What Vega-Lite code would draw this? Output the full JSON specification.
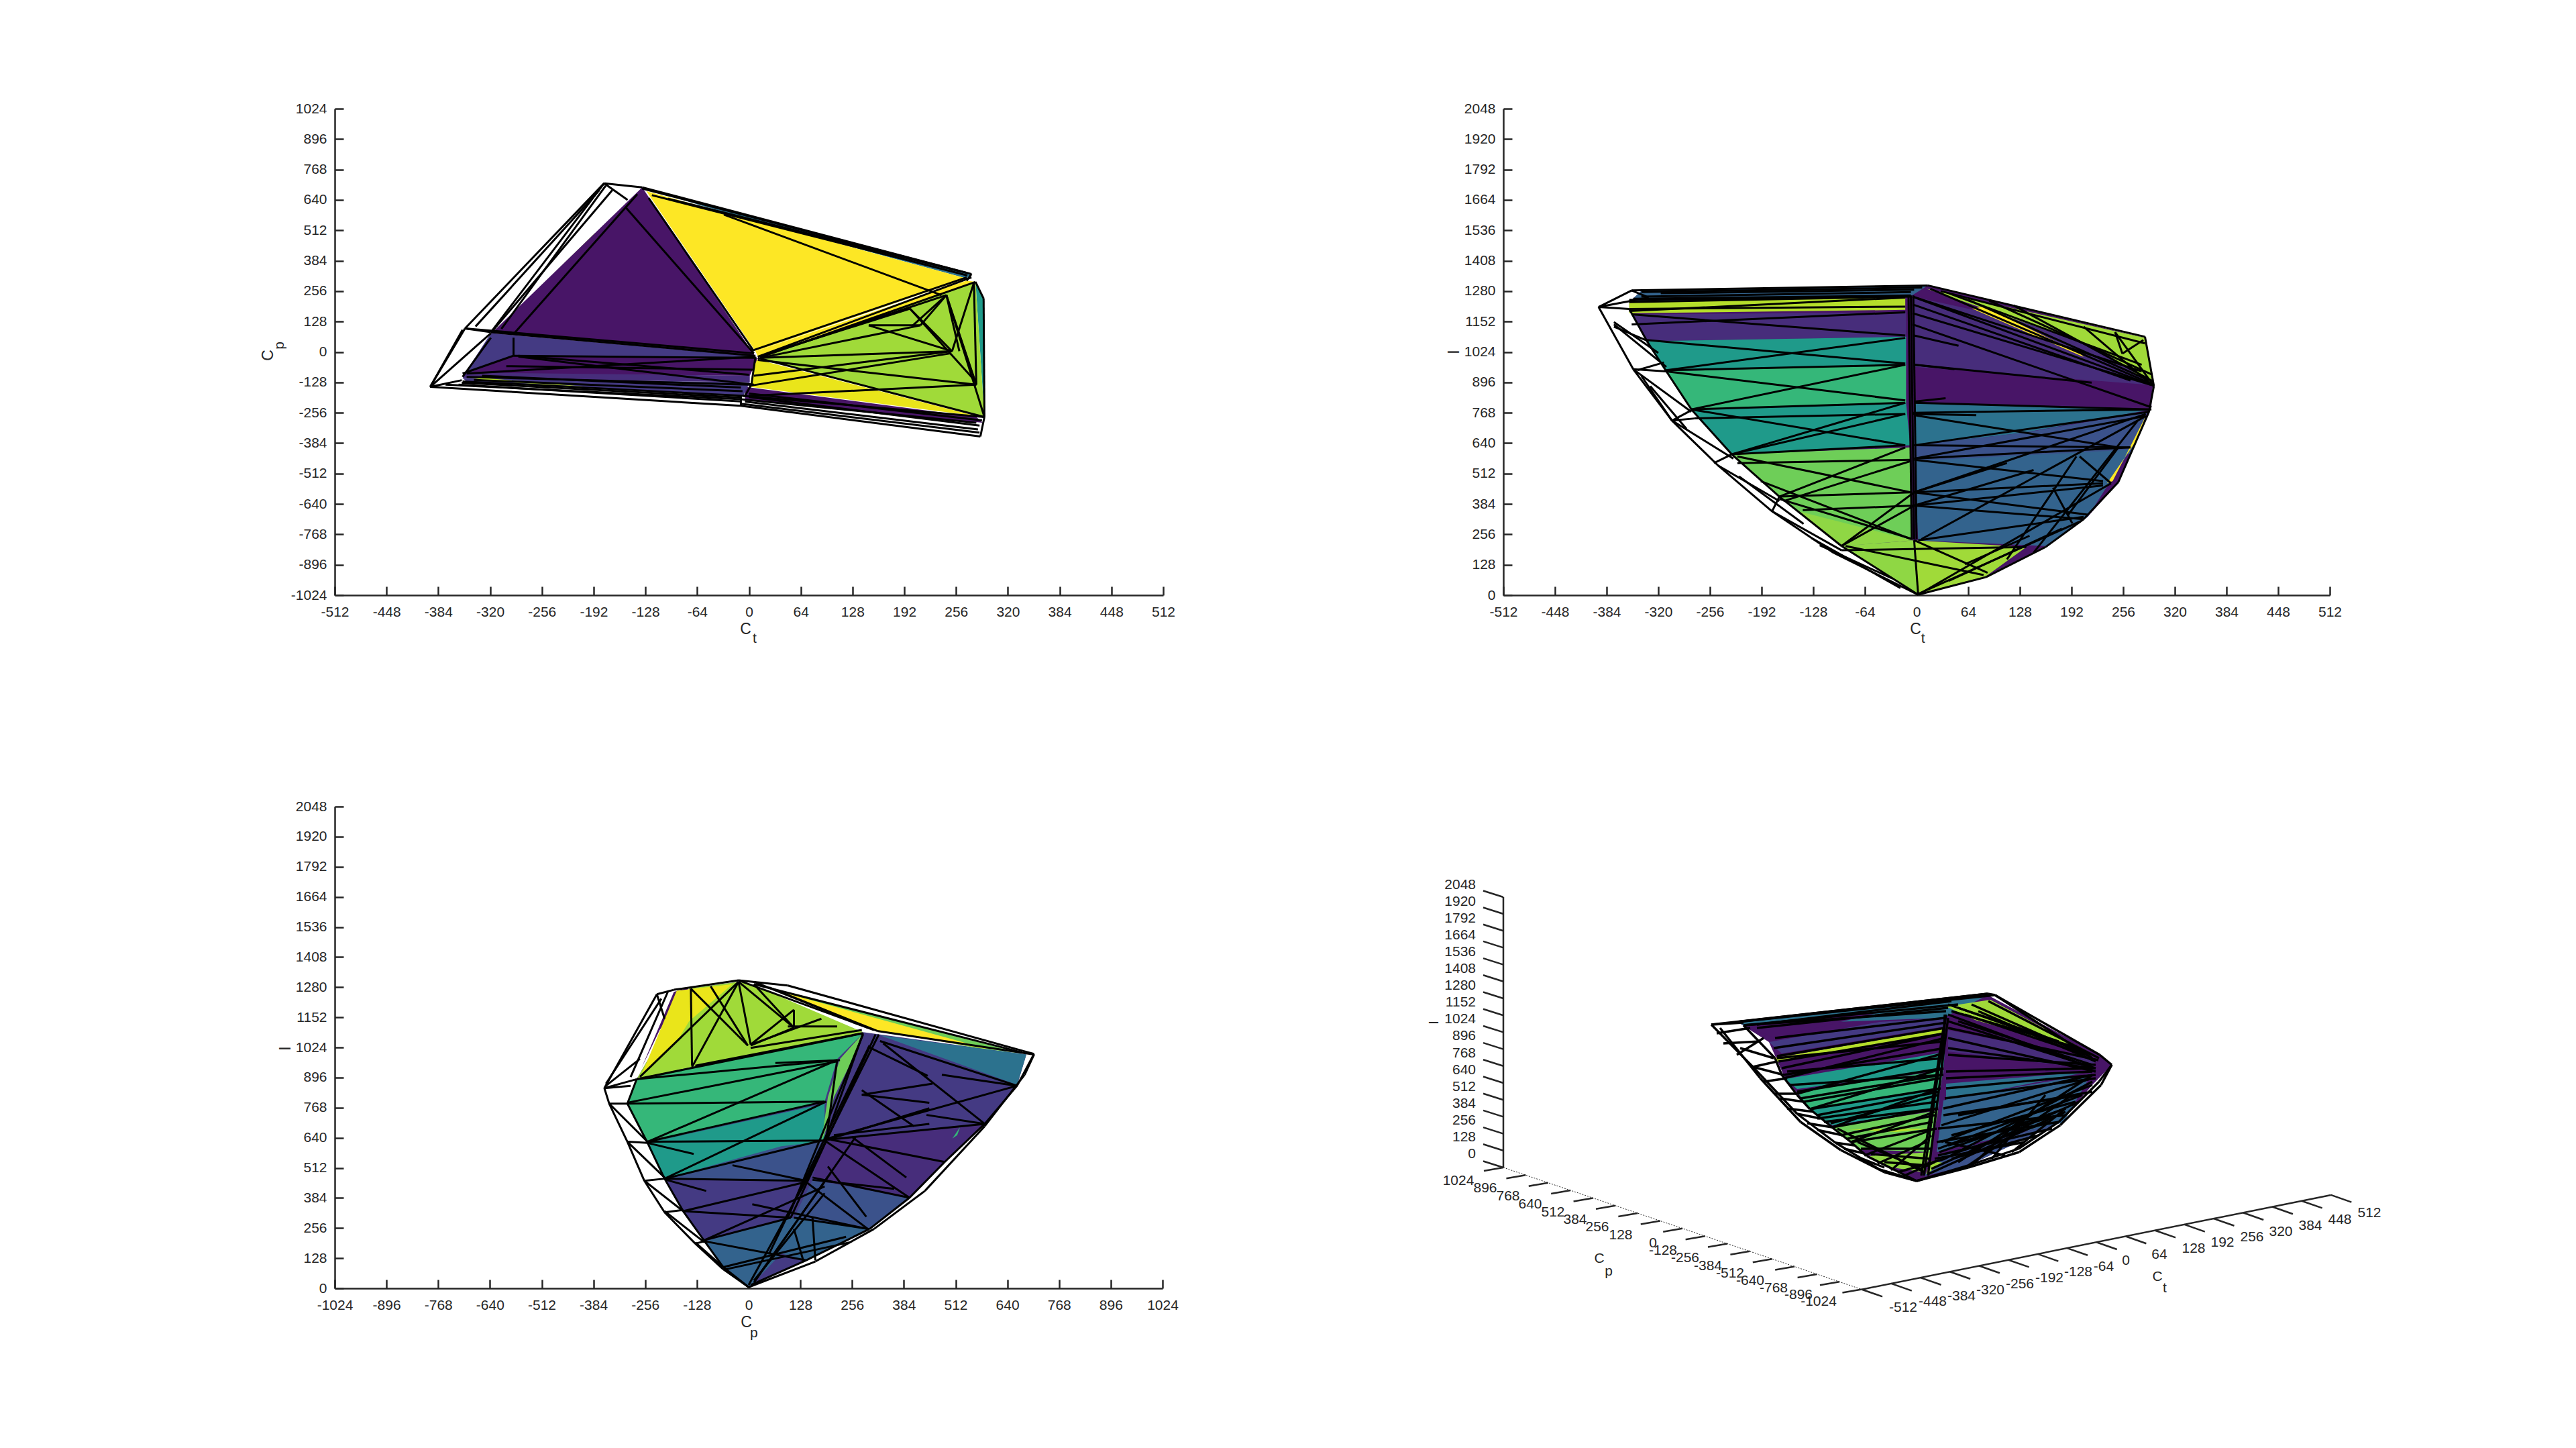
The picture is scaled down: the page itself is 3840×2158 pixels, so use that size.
{"$schema":"https://vega.github.io/schema/vega-lite/v6.json","background":"white","padding":{"left":388,"top":151,"right":200,"bottom":120},"config":{"view":{"stroke":null},"axis":{"grid":false,"domainColor":"#262626","tickColor":"#262626","domainWidth":2.5,"tickWidth":2.5,"tickSize":-13,"labelFont":"Liberation Sans","labelFontSize":21,"labelColor":"#262626","titleFont":"Liberation Sans","titleFontSize":23,"titleFontWeight":"normal","titleColor":"#262626","labelOverlap":false,"labelFlush":false,"labelBound":false},"axisX":{"labelPadding":27},"axisY":{"labelPadding":25},"text":{"font":"Liberation Sans","fontSize":21,"color":"#262626"}},
"datasets":{
"poly1":[
{"i":1,"v":1,"x":-190,"y":502,"c":"o"},{"i":1,"v":2,"x":-314,"y":88,"c":"o"},{"i":1,"v":3,"x":-304,"y":116,"c":"o"},{"i":1,"v":4,"x":-200,"y":446,"c":"o"},
{"i":2,"v":1,"x":-132,"y":693,"c":"f"},{"i":2,"v":2,"x":275,"y":328,"c":"f"},{"i":2,"v":3,"x":269,"y":309,"c":"f"},{"i":2,"v":4,"x":-58,"y":615,"c":"f"},
{"i":3,"v":1,"x":-127,"y":677,"c":"r"},{"i":3,"v":2,"x":269,"y":309,"c":"r"},{"i":3,"v":3,"x":8,"y":3,"c":"r"},
{"i":4,"v":1,"x":-132,"y":693,"c":"a"},{"i":4,"v":2,"x":8,"y":-20,"c":"a"},{"i":4,"v":3,"x":-317,"y":83,"c":"a"},
{"i":5,"v":1,"x":269,"y":300,"c":"r"},{"i":5,"v":2,"x":280,"y":295,"c":"r"},{"i":5,"v":3,"x":11,"y":-20,"c":"r"},{"i":5,"v":4,"x":8,"y":3,"c":"r"},
{"i":6,"v":1,"x":280,"y":295,"c":"g"},{"i":6,"v":2,"x":290,"y":225,"c":"g"},{"i":6,"v":3,"x":291,"y":-274,"c":"g"},
{"i":7,"v":1,"x":280,"y":295,"c":"o"},{"i":7,"v":2,"x":291,"y":-274,"c":"o"},{"i":7,"v":3,"x":154,"y":-157,"c":"o"},{"i":7,"v":4,"x":11,"y":-25,"c":"o"},
{"i":8,"v":1,"x":8,"y":-30,"c":"q"},{"i":8,"v":2,"x":281,"y":-270,"c":"q"},{"i":8,"v":3,"x":1,"y":-147,"c":"q"},
{"i":9,"v":1,"x":-5,"y":-147,"c":"a"},{"i":9,"v":2,"x":281,"y":-274,"c":"a"},{"i":9,"v":3,"x":289,"y":-298,"c":"a"},{"i":9,"v":4,"x":-5,"y":-204,"c":"a"},
{"i":10,"v":1,"x":-319,"y":79,"c":"c"},{"i":10,"v":2,"x":0,"y":-16,"c":"c"},{"i":10,"v":3,"x":8,"y":-25,"c":"c"},{"i":10,"v":4,"x":-290,"y":-16,"c":"c"},{"i":10,"v":5,"x":-354,"y":-105,"c":"c"},
{"i":11,"v":1,"x":-290,"y":-16,"c":"a"},{"i":11,"v":2,"x":11,"y":-25,"c":"a"},{"i":11,"v":3,"x":1,"y":-100,"c":"a"},{"i":11,"v":4,"x":-349,"y":-91,"c":"a"},
{"i":12,"v":1,"x":-354,"y":-110,"c":"c"},{"i":12,"v":2,"x":1,"y":-128,"c":"c"},{"i":12,"v":3,"x":-7,"y":-185,"c":"c"},{"i":12,"v":4,"x":-349,"y":-124,"c":"c"},
{"i":13,"v":1,"x":-349,"y":-87,"c":"b"},{"i":13,"v":2,"x":1,"y":-100,"c":"b"},{"i":13,"v":3,"x":1,"y":-128,"c":"b"},{"i":13,"v":4,"x":-354,"y":-110,"c":"b"},
{"i":14,"v":1,"x":-349,"y":-105,"c":"p"},{"i":14,"v":2,"x":-333,"y":-108,"c":"p"},{"i":14,"v":3,"x":-200,"y":-147,"c":"p"},{"i":14,"v":4,"x":-317,"y":-124,"c":"p"},
{"i":15,"v":1,"x":-319,"y":83,"c":"a"},{"i":15,"v":2,"x":1,"y":-6,"c":"a"},{"i":15,"v":3,"x":1,"y":-16,"c":"a"},{"i":15,"v":4,"x":-319,"y":79,"c":"a"}
],
"line1":[
{"x":-394,"y":-147,"x2":-351,"y2":99},{"x":-351,"y":99,"x2":-179,"y2":710},{"x":-179,"y":710,"x2":-132,"y2":693},{"x":-132,"y":693,"x2":275,"y2":328},{"x":-132,"y":688,"x2":269,"y2":333},{"x":275,"y":328,"x2":269,"y2":300},{"x":280,"y":295,"x2":290,"y2":225},{"x":290,"y":225,"x2":291,"y2":-274},{"x":291,"y":-274,"x2":286,"y2":-356},{"x":286,"y":-356,"x2":-10,"y2":-227},{"x":-10,"y":-227,"x2":-394,"y2":-147},{"x":-394,"y":-147,"x2":-355,"y2":-119},
{"x":-179,"y":710,"x2":-319,"y2":83},{"x":-169,"y":681,"x2":-317,"y2":88},{"x":-177,"y":700,"x2":-306,"y2":97},{"x":-185,"y":681,"x2":-338,"y2":107},{"x":-179,"y":710,"x2":-150,"y2":640},{"x":-138,"y":664,"x2":-290,"y2":79},{"x":-153,"y":611,"x2":6,"y2":-6},{"x":-124,"y":648,"x2":6,"y2":3},{"x":-351,"y":99,"x2":6,"y2":-6},{"x":-319,"y":83,"x2":8,"y2":-16},{"x":-351,"y":99,"x2":-319,"y2":83},{"x":-354,"y":93,"x2":-394,"y2":-147},{"x":-319,"y":79,"x2":-394,"y2":-147},{"x":-319,"y":60,"x2":-354,"y2":-105},{"x":-291,"y":60,"x2":-291,"y2":-16},{"x":-291,"y":-16,"x2":-354,"y2":-91},{"x":-291,"y":-16,"x2":8,"y2":-25},{"x":-285,"y":-16,"x2":0,"y2":-96},{"x":-285,"y":-20,"x2":6,"y2":-138},{"x":-349,"y":-91,"x2":8,"y2":-20},{"x":-349,"y":-105,"x2":0,"y2":-138},{"x":-354,"y":-124,"x2":-5,"y2":-185},{"x":-375,"y":-138,"x2":-10,"y2":-199},{"x":-359,"y":-138,"x2":-10,"y2":-208},{"x":-10,"y":-199,"x2":281,"y2":-298},{"x":-5,"y":-209,"x2":283,"y2":-326},{"x":-7,"y":-185,"x2":291,"y2":-274},{"x":8,"y":-20,"x2":3,"y2":-138},{"x":3,"y":-138,"x2":-5,"y2":-185},{"x":-10,"y":-185,"x2":-10,"y2":-227},
{"x":11,"y":-20,"x2":275,"y2":314},{"x":6,"y":8,"x2":269,"y2":314},{"x":16,"y":-20,"x2":280,"y2":295},{"x":-31,"y":578,"x2":238,"y2":239},{"x":244,"y":239,"x2":291,"y2":-274},{"x":244,"y":239,"x2":281,"y2":-138},{"x":244,"y":239,"x2":260,"y2":3},{"x":278,"y":291,"x2":251,"y2":3},{"x":278,"y":291,"x2":281,"y2":-138},{"x":199,"y":182,"x2":281,"y2":-128},{"x":199,"y":182,"x2":251,"y2":3},{"x":244,"y":239,"x2":201,"y2":107},{"x":148,"y":112,"x2":212,"y2":112},{"x":148,"y":112,"x2":251,"y2":3},{"x":212,"y":112,"x2":244,"y2":239},{"x":199,"y":182,"x2":11,"y2":-20},{"x":212,"y":112,"x2":14,"y2":-25},{"x":251,"y":3,"x2":14,"y2":-25},{"x":251,"y":3,"x2":6,"y2":-100},{"x":249,"y":-6,"x2":0,"y2":-143},{"x":281,"y":-138,"x2":0,"y2":-185},{"x":281,"y":-138,"x2":11,"y2":-34},{"x":11,"y":-25,"x2":291,"y2":-274},{"x":244,"y":239,"x2":14,"y2":-20},
{"x":-330,"y":-100,"x2":-10,"y2":-150},{"x":-340,"y":-118,"x2":-8,"y2":-165},{"x":-300,"y":-60,"x2":5,"y2":-75},{"x":-355,"y":-130,"x2":-10,"y2":-192},{"x":0,"y":-190,"x2":285,"y2":-310},{"x":0,"y":-175,"x2":288,"y2":-288},{"x":-10,"y":-218,"x2":285,"y2":-340},{"x":-120,"y":660,"x2":270,"y2":322},{"x":-100,"y":645,"x2":260,"y2":340}
],
"poly2":[
{"i":0,"v":1,"x":-356,"y":1234,"c":"a"},{"i":0,"v":2,"x":-341,"y":1281,"c":"a"},{"i":0,"v":3,"x":14,"y":1304,"c":"a"},{"i":0,"v":4,"x":283,"y":1083,"c":"a"},{"i":0,"v":5,"x":293,"y":885,"c":"a"},{"i":0,"v":6,"x":288,"y":772,"c":"a"},{"i":0,"v":7,"x":250,"y":476,"c":"a"},{"i":0,"v":8,"x":212,"y":330,"c":"a"},{"i":0,"v":9,"x":160,"y":207,"c":"a"},{"i":0,"v":10,"x":86,"y":80,"c":"a"},{"i":0,"v":11,"x":2,"y":2,"c":"a"},{"i":0,"v":12,"x":-93,"y":207,"c":"a"},{"i":0,"v":13,"x":-170,"y":415,"c":"a"},{"i":0,"v":14,"x":-229,"y":593,"c":"a"},{"i":0,"v":15,"x":-279,"y":782,"c":"a"},{"i":0,"v":16,"x":-310,"y":942,"c":"a"},{"i":0,"v":17,"x":-334,"y":1069,"c":"a"},{"i":0,"v":18,"x":-356,"y":1205,"c":"a"},
{"i":1,"v":1,"x":-341,"y":1281,"c":"e"},{"i":1,"v":2,"x":14,"y":1304,"c":"e"},{"i":1,"v":3,"x":-8,"y":1257,"c":"e"},{"i":1,"v":4,"x":-356,"y":1234,"c":"e"},
{"i":2,"v":1,"x":-356,"y":1234,"c":"p"},{"i":2,"v":2,"x":-14,"y":1257,"c":"p"},{"i":2,"v":3,"x":-14,"y":1201,"c":"p"},{"i":2,"v":4,"x":-356,"y":1187,"c":"p"},
{"i":3,"v":1,"x":-353,"y":1182,"c":"b"},{"i":3,"v":2,"x":-13,"y":1191,"c":"b"},{"i":3,"v":3,"x":-13,"y":1088,"c":"b"},{"i":3,"v":4,"x":-334,"y":1069,"c":"b"},
{"i":4,"v":1,"x":-334,"y":1069,"c":"g"},{"i":4,"v":2,"x":-13,"y":1088,"c":"g"},{"i":4,"v":3,"x":-13,"y":970,"c":"g"},{"i":4,"v":4,"x":-310,"y":942,"c":"g"},
{"i":5,"v":1,"x":-310,"y":942,"c":"k"},{"i":5,"v":2,"x":-13,"y":970,"c":"k"},{"i":5,"v":3,"x":-13,"y":810,"c":"k"},{"i":5,"v":4,"x":-279,"y":782,"c":"k"},
{"i":6,"v":1,"x":-279,"y":782,"c":"g"},{"i":6,"v":2,"x":-13,"y":810,"c":"g"},{"i":6,"v":3,"x":-8,"y":631,"c":"g"},{"i":6,"v":4,"x":-229,"y":593,"c":"g"},
{"i":7,"v":1,"x":-229,"y":593,"c":"m"},{"i":7,"v":2,"x":-7,"y":622,"c":"m"},{"i":7,"v":3,"x":-5,"y":231,"c":"m"},{"i":7,"v":4,"x":-89,"y":207,"c":"m"},{"i":7,"v":5,"x":-170,"y":415,"c":"m"},
{"i":8,"v":1,"x":-146,"y":353,"c":"n"},{"i":8,"v":2,"x":-5,"y":231,"c":"n"},{"i":8,"v":3,"x":-93,"y":207,"c":"n"},
{"i":9,"v":1,"x":-93,"y":207,"c":"n"},{"i":9,"v":2,"x":-3,"y":231,"c":"n"},{"i":9,"v":3,"x":2,"y":2,"c":"n"},
{"i":10,"v":1,"x":-3,"y":231,"c":"o"},{"i":10,"v":2,"x":136,"y":203,"c":"o"},{"i":10,"v":3,"x":86,"y":80,"c":"o"},{"i":10,"v":4,"x":2,"y":5,"c":"o"},
{"i":11,"v":1,"x":-5,"y":1257,"c":"b"},{"i":11,"v":2,"x":217,"y":1093,"c":"b"},{"i":11,"v":3,"x":291,"y":885,"c":"b"},{"i":11,"v":4,"x":291,"y":791,"c":"b"},{"i":11,"v":5,"x":-3,"y":810,"c":"b"},
{"i":12,"v":1,"x":-3,"y":961,"c":"a"},{"i":12,"v":2,"x":291,"y":885,"c":"a"},{"i":12,"v":3,"x":291,"y":791,"c":"a"},{"i":12,"v":4,"x":-3,"y":810,"c":"a"},
{"i":13,"v":1,"x":12,"y":1290,"c":"o"},{"i":13,"v":2,"x":283,"y":1083,"c":"o"},{"i":13,"v":3,"x":293,"y":885,"c":"o"},{"i":13,"v":4,"x":222,"y":1045,"c":"o"},
{"i":14,"v":1,"x":83,"y":1215,"c":"r"},{"i":14,"v":2,"x":203,"y":1017,"c":"r"},{"i":14,"v":3,"x":207,"y":1003,"c":"r"},{"i":14,"v":4,"x":69,"y":1206,"c":"r"},
{"i":15,"v":1,"x":-3,"y":810,"c":"f"},{"i":15,"v":2,"x":291,"y":782,"c":"f"},{"i":15,"v":3,"x":131,"y":683,"c":"f"},{"i":15,"v":4,"x":-3,"y":631,"c":"f"},
{"i":16,"v":1,"x":-3,"y":631,"c":"d"},{"i":16,"v":2,"x":131,"y":683,"c":"d"},{"i":16,"v":3,"x":286,"y":772,"c":"d"},{"i":16,"v":4,"x":265,"y":593,"c":"d"},{"i":16,"v":5,"x":-3,"y":565,"c":"d"},
{"i":17,"v":1,"x":-3,"y":565,"c":"e"},{"i":17,"v":2,"x":265,"y":612,"c":"e"},{"i":17,"v":3,"x":212,"y":330,"c":"e"},{"i":17,"v":4,"x":160,"y":207,"c":"e"},{"i":17,"v":5,"x":2,"y":231,"c":"e"},
{"i":18,"v":1,"x":274,"y":659,"c":"r"},{"i":18,"v":2,"x":284,"y":754,"c":"r"},{"i":18,"v":3,"x":243,"y":480,"c":"r"},{"i":18,"v":4,"x":236,"y":471,"c":"r"}
],
"line2":[
{"x":-394,"y":1213,"x2":-351,"y2":951},{"x":-351,"y":951,"x2":-303,"y2":735},{"x":-303,"y":735,"x2":-246,"y2":546},{"x":-246,"y":546,"x2":-179,"y2":353},{"x":-179,"y":353,"x2":-103,"y2":179},{"x":-103,"y":179,"x2":2,"y2":2},{"x":2,"y":2,"x2":86,"y2":76},{"x":86,"y":76,"x2":160,"y2":203},{"x":160,"y":203,"x2":207,"y2":320},{"x":207,"y":320,"x2":250,"y2":476},{"x":250,"y":476,"x2":288,"y2":772},{"x":288,"y":772,"x2":294,"y2":881},{"x":294,"y":881,"x2":283,"y2":1088},{"x":283,"y":1088,"x2":14,"y2":1304},{"x":14,"y":1304,"x2":-353,"y2":1283},{"x":-353,"y":1283,"x2":-394,"y2":1213},
{"x":-356,"y":1205,"x2":-334,"y2":1069},{"x":-334,"y":1069,"x2":-310,"y2":942},{"x":-310,"y":942,"x2":-279,"y2":782},{"x":-279,"y":782,"x2":-229,"y2":593},{"x":-229,"y":593,"x2":-170,"y2":415},{"x":-170,"y":415,"x2":-93,"y2":207},{"x":-93,"y":207,"x2":2,"y2":2},
{"x":-394,"y":1213,"x2":-356,"y2":1205},{"x":-375,"y":1130,"x2":-332,"y2":1069},{"x":-351,"y":951,"x2":-310,"y2":942},{"x":-346,"y":947,"x2":-313,"y2":980},{"x":-303,"y":735,"x2":-277,"y2":782},{"x":-303,"y":735,"x2":-275,"y2":744},{"x":-251,"y":556,"x2":-229,"y2":593},{"x":-179,"y":353,"x2":-170,"y2":415},{"x":-375,"y":1140,"x2":-310,"y2":961},{"x":-351,"y":951,"x2":-279,"y2":772},{"x":-341,"y":923,"x2":-303,"y2":735},{"x":-303,"y":735,"x2":-227,"y2":575},{"x":-246,"y":546,"x2":-170,"y2":396},{"x":-179,"y":353,"x2":-93,"y2":189},{"x":-353,"y":1283,"x2":-332,"y2":1253},{"x":-394,"y":1213,"x2":-332,"y2":1253},
{"x":-353,"y":1182,"x2":-14,"y2":1093},{"x":-353,"y":1140,"x2":-14,"y2":1191},{"x":-334,"y":1074,"x2":-14,"y2":975},{"x":-310,"y":947,"x2":-14,"y2":1083},{"x":-310,"y":947,"x2":-14,"y2":970},{"x":-310,"y":942,"x2":-14,"y2":820},{"x":-279,"y":782,"x2":-14,"y2":970},{"x":-279,"y":782,"x2":-14,"y2":810},{"x":-275,"y":744,"x2":-14,"y2":763},{"x":-279,"y":782,"x2":-14,"y2":631},{"x":-229,"y":593,"x2":-14,"y2":810},{"x":-229,"y":593,"x2":-14,"y2":763},{"x":-229,"y":593,"x2":-14,"y2":631},{"x":-222,"y":556,"x2":-7,"y2":570},{"x":-222,"y":584,"x2":-7,"y2":433},{"x":-170,"y":415,"x2":-14,"y2":622},{"x":-165,"y":396,"x2":-7,"y2":565},{"x":-170,"y":415,"x2":-7,"y2":433},{"x":-170,"y":405,"x2":-5,"y2":236},{"x":-141,"y":358,"x2":-5,"y2":377},{"x":-193,"y":480,"x2":-7,"y2":236},{"x":-93,"y":207,"x2":-3,"y2":433},{"x":-93,"y":207,"x2":-3,"y2":377},{"x":-93,"y":189,"x2":136,"y2":203},{"x":2,"y":2,"x2":-3,"y2":231},{"x":-88,"y":207,"x2":83,"y2":85},{"x":-3,"y":231,"x2":88,"y2":94},
{"x":-356,"y":1243,"x2":-14,"y2":1257},{"x":-356,"y":1196,"x2":-14,"y2":1253},{"x":-356,"y":1205,"x2":-14,"y2":1215},{"x":-341,"y":1276,"x2":7,"y2":1295},{"x":-317,"y":1271,"x2":-3,"y2":1286},{"x":-341,"y":1257,"x2":-7,"y2":1276},{"x":-351,"y":1248,"x2":-7,"y2":1262},{"x":-356,"y":1234,"x2":-7,"y2":1257},{"x":-10,"y":1262,"x2":-6,"y2":235},{"x":-7,"y":1262,"x2":-3,"y2":235},{"x":-4,"y":1262,"x2":0,"y2":235},
{"x":-5,"y":1257,"x2":291,"y2":885},{"x":-5,"y":1187,"x2":291,"y2":885},{"x":-5,"y":1140,"x2":291,"y2":791},{"x":-5,"y":1257,"x2":279,"y2":942},{"x":-5,"y":1224,"x2":265,"y2":904},{"x":-3,"y":970,"x2":217,"y2":895},{"x":-3,"y":810,"x2":291,"y2":782},{"x":-3,"y":1093,"x2":52,"y2":1050},{"x":-3,"y":970,"x2":47,"y2":951},{"x":-5,"y":763,"x2":74,"y2":758},{"x":-3,"y":815,"x2":36,"y2":829},{"x":-5,"y":768,"x2":288,"y2":782},{"x":-3,"y":758,"x2":250,"y2":622},{"x":-3,"y":631,"x2":288,"y2":772},{"x":-3,"y":575,"x2":284,"y2":754},{"x":-3,"y":631,"x2":265,"y2":622},{"x":-3,"y":575,"x2":265,"y2":622},{"x":-3,"y":570,"x2":231,"y2":480},{"x":-3,"y":433,"x2":284,"y2":763},{"x":-3,"y":433,"x2":231,"y2":471},{"x":-3,"y":433,"x2":112,"y2":556},{"x":-3,"y":377,"x2":145,"y2":527},{"x":-3,"y":377,"x2":231,"y2":462},{"x":-3,"y":377,"x2":207,"y2":320},{"x":-3,"y":433,"x2":212,"y2":339},{"x":6,"y":236,"x2":284,"y2":754},{"x":2,"y":231,"x2":207,"y2":330},{"x":2,"y":2,"x2":241,"y2":471},{"x":2,"y":5,"x2":203,"y2":311},{"x":274,"y":735,"x2":145,"y2":179},{"x":198,"y":584,"x2":112,"y2":151},{"x":250,"y":622,"x2":188,"y2":339},{"x":202,"y":584,"x2":241,"y2":471},{"x":169,"y":452,"x2":193,"y2":302},
{"x":246,"y":1107,"x2":293,"y2":885},{"x":246,"y":1107,"x2":255,"y2":1017},{"x":281,"y":1074,"x2":255,"y2":1017},{"x":207,"y":1130,"x2":293,"y2":881},{"x":64,"y":1243,"x2":288,"y2":904},{"x":17,"y":1290,"x2":291,"y2":890},{"x":40,"y":1271,"x2":279,"y2":970},
{"x":30,"y":1280,"x2":283,"y2":1060},{"x":90,"y":1240,"x2":291,"y2":930},{"x":120,"y":1220,"x2":293,"y2":900},{"x":-375,"y":1150,"x2":-320,"y2":1020},{"x":-330,"y":880,"x2":-285,"y2":700},{"x":-220,"y":500,"x2":-140,"y2":300},{"x":-130,"y":240,"x2":-20,"y2":30},{"x":-120,"y":210,"x2":-30,"y2":70},{"x":60,"y":130,"x2":140,"y2":250},{"x":40,"y":60,"x2":180,"y2":280}
],
"poly3":[
{"i":0,"v":1,"x":-277,"y":889,"c":"c"},{"i":0,"v":2,"x":-147,"y":1274,"c":"c"},{"i":0,"v":3,"x":-25,"y":1303,"c":"c"},{"i":0,"v":4,"x":283,"y":1089,"c":"c"},{"i":0,"v":5,"x":687,"y":994,"c":"c"},{"i":0,"v":6,"x":664,"y":861,"c":"c"},{"i":0,"v":7,"x":584,"y":699,"c":"c"},{"i":0,"v":8,"x":485,"y":537,"c":"c"},{"i":0,"v":9,"x":398,"y":385,"c":"c"},{"i":0,"v":10,"x":299,"y":252,"c":"c"},{"i":0,"v":11,"x":142,"y":119,"c":"c"},{"i":0,"v":12,"x":0,"y":5,"c":"c"},{"i":0,"v":13,"x":-63,"y":90,"c":"c"},{"i":0,"v":14,"x":-109,"y":200,"c":"c"},{"i":0,"v":15,"x":-162,"y":328,"c":"c"},{"i":0,"v":16,"x":-208,"y":466,"c":"c"},{"i":0,"v":17,"x":-250,"y":618,"c":"c"},{"i":0,"v":18,"x":-300,"y":785,"c":"c"},
{"i":1,"v":1,"x":-265,"y":937,"c":"a"},{"i":1,"v":2,"x":-185,"y":1260,"c":"a"},{"i":1,"v":3,"x":-147,"y":1279,"c":"a"},{"i":1,"v":4,"x":-220,"y":1098,"c":"a"},
{"i":2,"v":1,"x":-277,"y":889,"c":"o"},{"i":2,"v":2,"x":-147,"y":1274,"c":"o"},{"i":2,"v":3,"x":-25,"y":1303,"c":"o"},{"i":2,"v":4,"x":13,"y":1288,"c":"o"},{"i":2,"v":5,"x":283,"y":1089,"c":"o"},{"i":2,"v":6,"x":-140,"y":941,"c":"o"},
{"i":3,"v":1,"x":-265,"y":908,"c":"q"},{"i":3,"v":2,"x":-178,"y":1265,"c":"q"},{"i":3,"v":3,"x":-40,"y":1293,"c":"q"},{"i":3,"v":4,"x":-147,"y":1136,"c":"q"},{"i":3,"v":5,"x":-170,"y":1070,"c":"q"},
{"i":4,"v":1,"x":36,"y":1284,"c":"m"},{"i":4,"v":2,"x":676,"y":998,"c":"m"},{"i":4,"v":3,"x":562,"y":1022,"c":"m"},{"i":4,"v":4,"x":295,"y":1108,"c":"m"},
{"i":5,"v":1,"x":51,"y":1274,"c":"r"},{"i":5,"v":2,"x":592,"y":1017,"c":"r"},{"i":5,"v":3,"x":318,"y":1094,"c":"r"},
{"i":6,"v":1,"x":-277,"y":889,"c":"k"},{"i":6,"v":2,"x":283,"y":1084,"c":"k"},{"i":6,"v":3,"x":219,"y":975,"c":"k"},{"i":6,"v":4,"x":188,"y":794,"c":"k"},{"i":6,"v":5,"x":-300,"y":785,"c":"k"},
{"i":7,"v":1,"x":-300,"y":785,"c":"k"},{"i":7,"v":2,"x":192,"y":794,"c":"k"},{"i":7,"v":3,"x":-250,"y":618,"c":"k"},
{"i":8,"v":1,"x":-250,"y":618,"c":"g"},{"i":8,"v":2,"x":188,"y":785,"c":"g"},{"i":8,"v":3,"x":188,"y":628,"c":"g"},
{"i":9,"v":1,"x":-250,"y":618,"c":"g"},{"i":9,"v":2,"x":188,"y":628,"c":"g"},{"i":9,"v":3,"x":-208,"y":466,"c":"g"},
{"i":10,"v":1,"x":-208,"y":466,"c":"d"},{"i":10,"v":2,"x":81,"y":604,"c":"d"},{"i":10,"v":3,"x":180,"y":623,"c":"d"},{"i":10,"v":4,"x":142,"y":457,"c":"d"},
{"i":11,"v":1,"x":-208,"y":466,"c":"c"},{"i":11,"v":2,"x":142,"y":457,"c":"c"},{"i":11,"v":3,"x":-162,"y":328,"c":"c"},
{"i":12,"v":1,"x":-162,"y":328,"c":"c"},{"i":12,"v":2,"x":142,"y":457,"c":"c"},{"i":12,"v":3,"x":104,"y":300,"c":"c"},{"i":12,"v":4,"x":-109,"y":200,"c":"c"},
{"i":13,"v":1,"x":-109,"y":200,"c":"e"},{"i":13,"v":2,"x":104,"y":300,"c":"e"},{"i":13,"v":3,"x":299,"y":252,"c":"e"},{"i":13,"v":4,"x":142,"y":119,"c":"e"},{"i":13,"v":5,"x":0,"y":5,"c":"e"},{"i":13,"v":6,"x":-63,"y":90,"c":"e"},
{"i":14,"v":1,"x":283,"y":1084,"c":"m"},{"i":14,"v":2,"x":180,"y":623,"c":"m"},{"i":14,"v":3,"x":196,"y":813,"c":"m"},{"i":14,"v":4,"x":226,"y":975,"c":"m"},
{"i":15,"v":1,"x":287,"y":1079,"c":"c"},{"i":15,"v":2,"x":664,"y":861,"c":"c"},{"i":15,"v":3,"x":584,"y":699,"c":"c"},{"i":15,"v":4,"x":188,"y":632,"c":"c"},{"i":15,"v":5,"x":211,"y":813,"c":"c"},
{"i":16,"v":1,"x":325,"y":1075,"c":"f"},{"i":16,"v":2,"x":687,"y":994,"c":"f"},{"i":16,"v":3,"x":664,"y":865,"c":"f"},
{"i":17,"v":1,"x":188,"y":628,"c":"b"},{"i":17,"v":2,"x":584,"y":699,"c":"b"},{"i":17,"v":3,"x":485,"y":537,"c":"b"},{"i":17,"v":4,"x":398,"y":385,"c":"b"},{"i":17,"v":5,"x":158,"y":471,"c":"b"},
{"i":18,"v":1,"x":158,"y":461,"c":"d"},{"i":18,"v":2,"x":398,"y":385,"c":"d"},{"i":18,"v":3,"x":299,"y":252,"c":"d"},{"i":18,"v":4,"x":112,"y":300,"c":"d"},
{"i":19,"v":1,"x":13,"y":24,"c":"c"},{"i":19,"v":2,"x":142,"y":119,"c":"c"},{"i":19,"v":3,"x":81,"y":148,"c":"c"},
{"i":20,"v":1,"x":523,"y":685,"c":"k"},{"i":20,"v":2,"x":504,"y":637,"c":"k"},{"i":20,"v":3,"x":516,"y":651,"c":"k"}
],
"line3":[
{"x":0,"y":5,"x2":-63,"y2":81},{"x":-63,"y":81,"x2":-132,"y2":190},{"x":-132,"y":190,"x2":-208,"y2":323},{"x":-208,"y":323,"x2":-258,"y2":457},{"x":-258,"y":457,"x2":-300,"y2":623},{"x":-300,"y":623,"x2":-345,"y2":785},{"x":-345,"y":785,"x2":-357,"y2":851},{"x":-357,"y":851,"x2":-227,"y2":1250},{"x":-227,"y":1250,"x2":-185,"y2":1269},{"x":-185,"y":1269,"x2":-25,"y2":1309},{"x":-25,"y":1309,"x2":97,"y2":1287},{"x":97,"y":1287,"x2":706,"y2":996},{"x":706,"y":994,"x2":683,"y2":908},{"x":683,"y":908,"x2":584,"y2":689},{"x":584,"y":689,"x2":436,"y2":414},{"x":436,"y":414,"x2":310,"y2":252},{"x":310,"y":252,"x2":165,"y2":114},{"x":165,"y":114,"x2":0,"y2":5},{"x":706,"y":996,"x2":664,"y2":861},{"x":664,"y":861,"x2":584,"y2":699},{"x":584,"y":699,"x2":485,"y2":537},{"x":485,"y":537,"x2":398,"y2":385},{"x":398,"y":385,"x2":299,"y2":252},{"x":299,"y":252,"x2":142,"y2":119},{"x":142,"y":119,"x2":5,"y2":14},
{"x":-277,"y":889,"x2":-300,"y2":785},{"x":-300,"y":785,"x2":-250,"y2":618},{"x":-250,"y":618,"x2":-208,"y2":466},{"x":-208,"y":466,"x2":-162,"y2":328},{"x":-162,"y":328,"x2":-109,"y2":200},{"x":-109,"y":200,"x2":-63,"y2":90},{"x":-63,"y":90,"x2":0,"y2":5},{"x":-357,"y":851,"x2":-277,"y2":889},{"x":-357,"y":851,"x2":-292,"y2":861},{"x":-345,"y":785,"x2":-300,"y2":785},{"x":-353,"y":870,"x2":-216,"y2":1231},{"x":-353,"y":861,"x2":-269,"y2":975},{"x":-300,"y":623,"x2":-250,"y2":618},{"x":-345,"y":785,"x2":-250,"y2":623},{"x":-300,"y":623,"x2":-208,"y2":471},{"x":-258,"y":457,"x2":-208,"y2":466},{"x":-258,"y":457,"x2":-162,"y2":328},{"x":-208,"y":323,"x2":-162,"y2":333},{"x":-208,"y":328,"x2":-109,"y2":195},{"x":-132,"y":190,"x2":-109,"y2":200},{"x":-132,"y":195,"x2":-63,"y2":90},{"x":-227,"y":1250,"x2":-208,"y2":1146},{"x":-200,"y":1260,"x2":-292,"y2":898},
{"x":-277,"y":889,"x2":283,"y2":1084},{"x":-277,"y":889,"x2":219,"y2":970},{"x":-300,"y":789,"x2":219,"y2":965},{"x":-300,"y":785,"x2":188,"y2":794},{"x":-250,"y":623,"x2":219,"y2":970},{"x":-250,"y":623,"x2":188,"y2":794},{"x":-250,"y":623,"x2":188,"y2":628},{"x":-208,"y":466,"x2":192,"y2":794},{"x":-208,"y":466,"x2":180,"y2":628},{"x":-208,"y":466,"x2":142,"y2":457},{"x":-250,"y":618,"x2":-136,"y2":571},{"x":-204,"y":461,"x2":-105,"y2":414},{"x":-162,"y":328,"x2":142,"y2":452},{"x":-162,"y":328,"x2":104,"y2":300},{"x":-109,"y":205,"x2":104,"y2":300},{"x":-109,"y":205,"x2":188,"y2":433},{"x":-109,"y":200,"x2":142,"y2":119},{"x":9,"y":357,"x2":295,"y2":252},{"x":-63,"y":90,"x2":241,"y2":219},{"x":-40,"y":523,"x2":142,"y2":457},{"x":66,"y":958,"x2":226,"y2":970},
{"x":-143,"y":1274,"x2":-140,"y2":946},{"x":-143,"y":1274,"x2":-2,"y2":1032},{"x":-94,"y":1284,"x2":-2,"y2":1032},{"x":-25,"y":1303,"x2":-140,"y2":941},{"x":-25,"y":1303,"x2":-269,"y2":899},{"x":-25,"y":1303,"x2":5,"y2":1036},{"x":-25,"y":1303,"x2":112,"y2":1108},{"x":13,"y":1293,"x2":112,"y2":1108},{"x":112,"y":1184,"x2":5,"y2":1036},{"x":112,"y":1184,"x2":112,"y2":1108},{"x":112,"y":1108,"x2":5,"y2":1032},{"x":180,"y":1146,"x2":5,"y2":1036},{"x":97,"y":1113,"x2":219,"y2":1113},{"x":-132,"y":946,"x2":280,"y2":1084},{"x":5,"y":1022,"x2":280,"y2":1098},{"x":-25,"y":1309,"x2":310,"y2":1098},{"x":13,"y":1303,"x2":295,"y2":1108},{"x":51,"y":1279,"x2":318,"y2":1094},{"x":318,"y":1094,"x2":706,"y2":994},{"x":13,"y":1293,"x2":676,"y2":1003},
{"x":283,"y":1084,"x2":188,"y2":623},{"x":322,"y":1079,"x2":142,"y2":457},{"x":314,"y":1079,"x2":104,"y2":300},{"x":299,"y":1032,"x2":51,"y2":148},{"x":264,"y":642,"x2":13,"y2":24},{"x":203,"y":490,"x2":20,"y2":43},{"x":142,"y":457,"x2":0,"y2":14},{"x":188,"y":404,"x2":13,"y2":33},{"x":219,"y":970,"x2":192,"y2":632},{"x":325,"y":1051,"x2":664,"y2":861},{"x":295,"y":1027,"x2":443,"y2":903},{"x":280,"y":842,"x2":409,"y2":689},{"x":333,"y":1041,"x2":584,"y2":699},{"x":478,"y":908,"x2":664,"y2":861},{"x":280,"y":823,"x2":455,"y2":870},{"x":280,"y":823,"x2":447,"y2":789},{"x":196,"y":637,"x2":664,"y2":861},{"x":196,"y":632,"x2":447,"y2":765},{"x":211,"y":651,"x2":447,"y2":699},{"x":440,"y":737,"x2":584,"y2":699},{"x":196,"y":632,"x2":584,"y2":699},{"x":203,"y":632,"x2":485,"y2":537},{"x":257,"y":642,"x2":390,"y2":471},{"x":188,"y":628,"x2":398,"y2":385},{"x":158,"y":471,"x2":398,"y2":385},{"x":158,"y":461,"x2":360,"y2":423},{"x":196,"y":518,"x2":291,"y2":304},{"x":142,"y":452,"x2":295,"y2":252},{"x":112,"y":300,"x2":299,"y2":252},{"x":158,"y":300,"x2":165,"y2":119},{"x":112,"y":252,"x2":135,"y2":119},{"x":-56,"y":81,"x2":249,"y2":195},{"x":283,"y":1079,"x2":97,"y2":300}
],
"poly4":[
{"i":0,"v":1,"x":471,"y":479,"c":"a"},{"i":0,"v":2,"x":844,"y":519,"c":"a"},{"i":0,"v":3,"x":1011,"y":430,"c":"a"},{"i":0,"v":4,"x":1029,"y":415,"c":"a"},{"i":0,"v":5,"x":1000,"y":385,"c":"a"},{"i":0,"v":6,"x":952,"y":329,"c":"a"},{"i":0,"v":7,"x":815,"y":265,"c":"a"},{"i":0,"v":8,"x":738,"y":242,"c":"a"},{"i":0,"v":9,"x":664,"y":279,"c":"a"},{"i":0,"v":10,"x":612,"y":322,"c":"a"},{"i":0,"v":11,"x":579,"y":349,"c":"a"},{"i":0,"v":12,"x":542,"y":395,"c":"a"},{"i":0,"v":13,"x":518,"y":449,"c":"a"},
{"i":1,"v":1,"x":471,"y":479,"c":"f"},{"i":1,"v":2,"x":844,"y":519,"c":"f"},{"i":1,"v":3,"x":778,"y":485,"c":"f"},{"i":1,"v":4,"x":480,"y":474,"c":"f"},
{"i":2,"v":1,"x":782,"y":502,"c":"o"},{"i":2,"v":2,"x":848,"y":512,"c":"o"},{"i":2,"v":3,"x":999,"y":432,"c":"o"},{"i":2,"v":4,"x":825,"y":482,"c":"o"},
{"i":3,"v":1,"x":480,"y":474,"c":"a"},{"i":3,"v":2,"x":678,"y":492,"c":"a"},{"i":3,"v":3,"x":527,"y":455,"c":"a"},
{"i":4,"v":1,"x":518,"y":449,"c":"c"},{"i":4,"v":2,"x":683,"y":479,"c":"c"},{"i":4,"v":3,"x":778,"y":485,"c":"c"},{"i":4,"v":4,"x":778,"y":472,"c":"c"},{"i":4,"v":5,"x":537,"y":432,"c":"c"},
{"i":5,"v":1,"x":525,"y":425,"c":"p"},{"i":5,"v":2,"x":780,"y":469,"c":"p"},{"i":5,"v":3,"x":780,"y":455,"c":"p"},{"i":5,"v":4,"x":532,"y":419,"c":"p"},
{"i":6,"v":1,"x":532,"y":419,"c":"a"},{"i":6,"v":2,"x":780,"y":462,"c":"a"},{"i":6,"v":3,"x":780,"y":434,"c":"a"},{"i":6,"v":4,"x":542,"y":395,"c":"a"},
{"i":7,"v":1,"x":542,"y":394,"c":"g"},{"i":7,"v":2,"x":780,"y":434,"c":"g"},{"i":7,"v":3,"x":778,"y":409,"c":"g"},{"i":7,"v":4,"x":560,"y":379,"c":"g"},
{"i":8,"v":1,"x":560,"y":375,"c":"k"},{"i":8,"v":2,"x":778,"y":407,"c":"k"},{"i":8,"v":3,"x":773,"y":379,"c":"k"},{"i":8,"v":4,"x":579,"y":349,"c":"k"},
{"i":9,"v":1,"x":579,"y":349,"c":"g"},{"i":9,"v":2,"x":773,"y":379,"c":"g"},{"i":9,"v":3,"x":770,"y":349,"c":"g"},{"i":9,"v":4,"x":612,"y":325,"c":"g"},
{"i":10,"v":1,"x":612,"y":322,"c":"m"},{"i":10,"v":2,"x":770,"y":347,"c":"m"},{"i":10,"v":3,"x":759,"y":285,"c":"m"},{"i":10,"v":4,"x":655,"y":289,"c":"m"},
{"i":11,"v":1,"x":612,"y":322,"c":"r"},{"i":11,"v":2,"x":759,"y":349,"c":"r"},{"i":11,"v":3,"x":730,"y":342,"c":"r"},{"i":11,"v":4,"x":645,"y":329,"c":"r"},
{"i":12,"v":1,"x":636,"y":319,"c":"p"},{"i":12,"v":2,"x":759,"y":320,"c":"p"},{"i":12,"v":3,"x":707,"y":315,"c":"p"},
{"i":13,"v":1,"x":664,"y":279,"c":"n"},{"i":13,"v":2,"x":759,"y":285,"c":"n"},{"i":13,"v":3,"x":749,"y":255,"c":"n"},{"i":13,"v":4,"x":702,"y":262,"c":"n"},
{"i":14,"v":1,"x":785,"y":467,"c":"b"},{"i":14,"v":2,"x":1009,"y":422,"c":"b"},{"i":14,"v":3,"x":990,"y":410,"c":"b"},{"i":14,"v":4,"x":785,"y":435,"c":"b"},
{"i":15,"v":1,"x":785,"y":432,"c":"a"},{"i":15,"v":2,"x":995,"y":409,"c":"a"},{"i":15,"v":3,"x":785,"y":389,"c":"a"},
{"i":16,"v":1,"x":782,"y":387,"c":"f"},{"i":16,"v":2,"x":995,"y":405,"c":"f"},{"i":16,"v":3,"x":782,"y":362,"c":"f"},
{"i":17,"v":1,"x":778,"y":362,"c":"e"},{"i":17,"v":2,"x":999,"y":402,"c":"e"},{"i":17,"v":3,"x":957,"y":329,"c":"e"},{"i":17,"v":4,"x":768,"y":285,"c":"e"},
{"i":18,"v":1,"x":773,"y":282,"c":"d"},{"i":18,"v":2,"x":952,"y":329,"c":"d"},{"i":18,"v":3,"x":815,"y":265,"c":"d"},{"i":18,"v":4,"x":749,"y":249,"c":"d"},
{"i":19,"v":1,"x":752,"y":252,"c":"o"},{"i":19,"v":2,"x":777,"y":269,"c":"o"},{"i":19,"v":3,"x":759,"y":272,"c":"o"}
],
"line4":[
{"x":432,"y":475,"x2":844,"y2":521},{"x":844,"y":521,"x2":855,"y2":519},{"x":855,"y":519,"x2":1011,"y2":430},{"x":1011,"y":430,"x2":1029,"y2":415},{"x":1029,"y":415,"x2":1013,"y2":385},{"x":1013,"y":385,"x2":952,"y2":325},{"x":952,"y":325,"x2":891,"y2":285},{"x":891,"y":285,"x2":815,"y2":262},{"x":815,"y":262,"x2":738,"y2":242},{"x":738,"y":242,"x2":683,"y2":259},{"x":683,"y":259,"x2":617,"y2":299},{"x":617,"y":299,"x2":560,"y2":342},{"x":560,"y":342,"x2":494,"y2":412},{"x":494,"y":412,"x2":432,"y2":475},
{"x":445,"y":470,"x2":505,"y2":395},{"x":505,"y":395,"x2":565,"y2":330},{"x":565,"y":330,"x2":625,"y2":288},{"x":625,"y":288,"x2":690,"y2":255},{"x":690,"y":255,"x2":738,"y2":242},
{"x":432,"y":475,"x2":480,"y2":478},{"x":440,"y":462,"x2":490,"y2":470},{"x":450,"y":447,"x2":505,"y2":450},{"x":470,"y":430,"x2":510,"y2":455},{"x":475,"y":440,"x2":525,"y2":425},{"x":494,"y":412,"x2":530,"y2":420},{"x":494,"y":412,"x2":540,"y2":400},{"x":510,"y":390,"x2":545,"y2":395},{"x":525,"y":372,"x2":560,"y2":372},{"x":535,"y":365,"x2":570,"y2":360},{"x":545,"y":350,"x2":585,"y2":345},{"x":560,"y":342,"x2":595,"y2":335},{"x":575,"y":328,"x2":612,"y2":322},{"x":590,"y":318,"x2":628,"y2":310},{"x":617,"y":299,"x2":645,"y2":295},{"x":630,"y":290,"x2":660,"y2":283},{"x":650,"y":278,"x2":690,"y2":262},{"x":683,"y":259,"x2":720,"y2":248},
{"x":480,"y":474,"x2":527,"y2":425},{"x":527,"y":425,"x2":537,"y2":400},{"x":537,"y":400,"x2":560,"y2":370},{"x":560,"y":370,"x2":579,"y2":349},{"x":579,"y":349,"x2":612,"y2":322},{"x":612,"y":322,"x2":640,"y2":300},{"x":640,"y":300,"x2":664,"y2":279},{"x":664,"y":279,"x2":738,"y2":242},
{"x":471,"y":479,"x2":844,"y2":521},{"x":480,"y":474,"x2":782,"y2":495},{"x":500,"y":475,"x2":790,"y2":510},{"x":527,"y":455,"x2":780,"y2":485},{"x":525,"y":440,"x2":782,"y2":478},{"x":530,"y":428,"x2":780,"y2":470},{"x":532,"y":420,"x2":780,"y2":462},{"x":530,"y":425,"x2":780,"y2":450},{"x":537,"y":410,"x2":780,"y2":462},{"x":540,"y":400,"x2":780,"y2":440},{"x":540,"y":395,"x2":780,"y2":455},{"x":560,"y":372,"x2":778,"y2":432},{"x":560,"y":375,"x2":778,"y2":410},{"x":565,"y":365,"x2":775,"y2":400},{"x":579,"y":349,"x2":778,"y2":410},{"x":579,"y":349,"x2":774,"y2":380},{"x":590,"y":340,"x2":772,"y2":375},{"x":600,"y":330,"x2":770,"y2":350},{"x":612,"y":322,"x2":772,"y2":380},{"x":612,"y":322,"x2":770,"y2":350},{"x":625,"y":310,"x2":765,"y2":340},{"x":640,"y":300,"x2":768,"y2":320},{"x":640,"y":300,"x2":765,"y2":345},{"x":660,"y":280,"x2":765,"y2":320},{"x":655,"y":290,"x2":760,"y2":290},{"x":680,"y":268,"x2":752,"y2":300},{"x":700,"y":258,"x2":760,"y2":310},{"x":720,"y":250,"x2":765,"y2":270},{"x":650,"y":300,"x2":745,"y2":260},{"x":620,"y":320,"x2":750,"y2":255},{"x":710,"y":255,"x2":780,"y2":275},
{"x":785,"y":480,"x2":1005,"y2":410},{"x":785,"y":470,"x2":1009,"y2":422},{"x":785,"y":455,"x2":1005,"y2":405},{"x":785,"y":440,"x2":1000,"y2":410},{"x":785,"y":430,"x2":1005,"y2":415},{"x":782,"y":405,"x2":1005,"y2":410},{"x":782,"y":395,"x2":1000,"y2":405},{"x":782,"y":380,"x2":1005,"y2":400},{"x":780,"y":365,"x2":1005,"y2":395},{"x":778,"y":350,"x2":1000,"y2":400},{"x":778,"y":340,"x2":985,"y2":370},{"x":775,"y":325,"x2":1000,"y2":395},{"x":770,"y":320,"x2":960,"y2":340},{"x":775,"y":300,"x2":1000,"y2":385},{"x":770,"y":290,"x2":985,"y2":370},{"x":772,"y":285,"x2":960,"y2":350},{"x":770,"y":280,"x2":940,"y2":320},{"x":768,"y":300,"x2":950,"y2":330},{"x":765,"y":275,"x2":900,"y2":300},{"x":760,"y":260,"x2":980,"y2":360},{"x":755,"y":252,"x2":960,"y2":345},{"x":780,"y":300,"x2":870,"y2":280},{"x":790,"y":275,"x2":920,"y2":310},{"x":800,"y":270,"x2":1000,"y2":400},{"x":815,"y":265,"x2":970,"y2":370},{"x":850,"y":275,"x2":930,"y2":370},{"x":880,"y":285,"x2":960,"y2":350},{"x":820,"y":265,"x2":900,"y2":340},
{"x":855,"y":519,"x2":1000,"y2":425},{"x":845,"y":510,"x2":1010,"y2":425},{"x":830,"y":495,"x2":1005,"y2":420},{"x":810,"y":490,"x2":990,"y2":430},{"x":800,"y":480,"x2":1000,"y2":415},{"x":785,"y":505,"x2":950,"y2":450},{"x":790,"y":495,"x2":980,"y2":440},{"x":785,"y":490,"x2":1000,"y2":410},
{"x":471,"y":479,"x2":855,"y2":519},{"x":480,"y":474,"x2":800,"y2":505},{"x":500,"y":470,"x2":785,"y2":500},{"x":782,"y":490,"x2":749,"y2":250},{"x":785,"y":485,"x2":755,"y2":250},{"x":778,"y":470,"x2":745,"y2":250},{"x":780,"y":490,"x2":775,"y2":400},
{"x":738,"y":242,"x2":815,"y2":265},{"x":815,"y":265,"x2":890,"y2":290},{"x":890,"y":290,"x2":950,"y2":330},{"x":950,"y":330,"x2":1010,"y2":390},{"x":1010,"y":390,"x2":1029,"y2":415},
{"x":545,"y":405,"x2":778,"y2":425},{"x":550,"y":385,"x2":778,"y2":400},{"x":570,"y":360,"x2":772,"y2":395},{"x":590,"y":335,"x2":768,"y2":360},{"x":610,"y":328,"x2":770,"y2":370},{"x":635,"y":305,"x2":762,"y2":330},{"x":670,"y":282,"x2":758,"y2":275},{"x":690,"y":270,"x2":755,"y2":265},{"x":800,"y":340,"x2":1000,"y2":375},{"x":790,"y":310,"x2":975,"y2":360},{"x":785,"y":295,"x2":950,"y2":340},{"x":800,"y":285,"x2":935,"y2":330},{"x":780,"y":275,"x2":1000,"y2":390},{"x":800,"y":500,"x2":1000,"y2":430},{"x":820,"y":505,"x2":995,"y2":428}
],
"ticks4":[
{"x":122,"y":262,"x2":122,"y2":665},{"x":656.5,"y":80.3,"x2":1355.7,"y2":221.1},
{"x":122,"y":262,"x2":92,"y2":271.5},{"x":122,"y":287.2,"x2":92,"y2":296.7},{"x":122,"y":312.4,"x2":92,"y2":321.9},{"x":122,"y":337.6,"x2":92,"y2":347.1},{"x":122,"y":362.8,"x2":92,"y2":372.3},{"x":122,"y":388,"x2":92,"y2":397.5},{"x":122,"y":413.2,"x2":92,"y2":422.7},{"x":122,"y":438.4,"x2":92,"y2":447.9},{"x":122,"y":463.6,"x2":92,"y2":473},{"x":122,"y":488.8,"x2":92,"y2":498.3},{"x":122,"y":514,"x2":92,"y2":523.5},{"x":122,"y":539.2,"x2":92,"y2":548.7},{"x":122,"y":564.4,"x2":92,"y2":573.9},{"x":122,"y":589.6,"x2":92,"y2":599.1},{"x":122,"y":614.8,"x2":92,"y2":624.3},{"x":122,"y":640,"x2":92,"y2":649.5},{"x":122,"y":665,"x2":92,"y2":674.5},
{"x":122,"y":262,"x2":93,"y2":257},{"x":155.4,"y":250.65,"x2":126.4,"y2":245.65},{"x":188.8,"y":239.3,"x2":159.8,"y2":234.3},{"x":222.2,"y":227.95,"x2":193.2,"y2":222.95},{"x":255.6,"y":216.6,"x2":226.6,"y2":211.6},{"x":289,"y":205.25,"x2":260,"y2":200.25},{"x":322.4,"y":193.9,"x2":293.4,"y2":188.9},{"x":355.8,"y":182.55,"x2":326.8,"y2":177.55},{"x":389.2,"y":171.2,"x2":360.2,"y2":166.2},{"x":422.6,"y":159.85,"x2":393.6,"y2":154.85},{"x":456,"y":148.5,"x2":427,"y2":143.5},{"x":489.4,"y":137.15,"x2":460.4,"y2":132.15},{"x":522.8,"y":125.8,"x2":493.8,"y2":120.8},{"x":556.2,"y":114.45,"x2":527.2,"y2":109.45},{"x":589.6,"y":103.1,"x2":560.6,"y2":98.1},{"x":623,"y":91.75,"x2":594,"y2":86.75},{"x":656.4,"y":80.4,"x2":627.4,"y2":75.4},
{"x":656.5,"y":80.3,"x2":687.1,"y2":69.6},{"x":700.2,"y":89.1,"x2":730.8,"y2":78.4},{"x":743.9,"y":97.9,"x2":774.5,"y2":87.2},{"x":787.6,"y":106.7,"x2":818.2,"y2":96},{"x":831.3,"y":115.5,"x2":861.9,"y2":104.8},{"x":875,"y":124.3,"x2":905.6,"y2":113.6},{"x":918.7,"y":133.1,"x2":949.3,"y2":122.4},{"x":962.4,"y":141.9,"x2":993,"y2":131.2},{"x":1006.1,"y":150.7,"x2":1036.7,"y2":140},{"x":1049.8,"y":159.5,"x2":1080.4,"y2":148.8},{"x":1093.5,"y":168.3,"x2":1124.1,"y2":157.6},{"x":1137.2,"y":177.1,"x2":1167.8,"y2":166.4},{"x":1180.9,"y":185.9,"x2":1211.5,"y2":175.2},{"x":1224.6,"y":194.7,"x2":1255.2,"y2":184},{"x":1268.3,"y":203.5,"x2":1298.9,"y2":192.8},{"x":1312,"y":212.3,"x2":1342.6,"y2":201.6},{"x":1355.7,"y":221.1,"x2":1386.3,"y2":210.4}
],
"dot4":[{"x":122,"y":262,"x2":656.5,"y2":80.3}],
"labR4":[
{"x":81,"y":282,"t":"0"},{"x":81,"y":307,"t":"128"},{"x":81,"y":332,"t":"256"},{"x":81,"y":357,"t":"384"},{"x":81,"y":382,"t":"512"},{"x":81,"y":407,"t":"640"},{"x":81,"y":432,"t":"768"},{"x":81,"y":458,"t":"896"},{"x":81,"y":483,"t":"1024"},{"x":81,"y":508,"t":"1152"},{"x":81,"y":533,"t":"1280"},{"x":81,"y":558,"t":"1408"},{"x":81,"y":583,"t":"1536"},{"x":81,"y":608,"t":"1664"},{"x":81,"y":633,"t":"1792"},{"x":81,"y":658,"t":"1920"},{"x":81,"y":683,"t":"2048"}],
"labC4":[
{"x":55,"y":242,"t":"1024"},{"x":95,"y":231,"t":"896"},{"x":129,"y":219,"t":"768"},{"x":162,"y":207,"t":"640"},{"x":196,"y":195,"t":"512"},{"x":229,"y":184,"t":"384"},{"x":262,"y":173,"t":"256"},{"x":297,"y":161,"t":"128"},{"x":345,"y":149,"t":"0"},{"x":360,"y":138,"t":"-128"},{"x":393,"y":127,"t":"-256"},{"x":427,"y":115,"t":"-384"},{"x":460,"y":104,"t":"-512"},{"x":490,"y":93,"t":"-640"},{"x":525,"y":82,"t":"-768"},{"x":562,"y":72,"t":"-896"},{"x":592,"y":62,"t":"-1024"},
{"x":718,"y":53,"t":"-512"},{"x":762,"y":62,"t":"-448"},{"x":805,"y":70,"t":"-384"},{"x":848,"y":79,"t":"-320"},{"x":892,"y":88,"t":"-256"},{"x":936,"y":97,"t":"-192"},{"x":979,"y":106,"t":"-128"},{"x":1017,"y":114,"t":"-64"},{"x":1050,"y":123,"t":"0"},{"x":1100,"y":132,"t":"64"},{"x":1151,"y":141,"t":"128"},{"x":1194,"y":150,"t":"192"},{"x":1238,"y":158,"t":"256"},{"x":1281,"y":166,"t":"320"},{"x":1325,"y":175,"t":"384"},{"x":1369,"y":184,"t":"448"},{"x":1413,"y":194,"t":"512"},
{"x":265,"y":126,"t":"C"},{"x":279,"y":107,"t":"p"},{"x":1097,"y":99,"t":"C"},{"x":1108,"y":82,"t":"t"}],
"labI4":[{"x":19,"y":478,"t":"I"}],
"sub1x":[{"x":7,"y":-1207,"t":"t"}],
"sub1y":[{"x":-580,"y":27,"t":"p"}],
"sub2x":[{"x":8,"y":-184,"t":"t"}],
"sub3x":[{"x":13,"y":-190,"t":"p"}]
},
"vconcat":[
{"hconcat":[
{"width":1235,"height":725,"layer":[
{"data":{"name":"poly1"},"mark":{"type":"line","strokeWidth":0},"encoding":{"x":{"field":"x","type":"quantitative","scale":{"domain":[-512,512],"nice":false,"zero":false},"axis":{"values":[-512,-448,-384,-320,-256,-192,-128,-64,0,64,128,192,256,320,384,448,512],"labelExpr":"'' + datum.value","title":"C","titleX":612,"titleY":50,"titleBaseline":"middle"}},"y":{"field":"y","type":"quantitative","scale":{"domain":[-1024,1024],"nice":false,"zero":false},"axis":{"values":[-1024,-896,-768,-640,-512,-384,-256,-128,0,128,256,384,512,640,768,896,1024],"labelExpr":"'' + datum.value","title":"C","titleX":-100,"titleY":367,"titleBaseline":"middle"}},"detail":{"field":"i"},"order":{"field":"v"},"fill":{"field":"c","type":"nominal","legend":null,"scale":{"domain":["a","b","c","d","e","f","g","k","m","n","o","p","q","r"],"range":["#481567","#472d7b","#443a83","#3b528b","#33638d","#2c728e","#1f9a8a","#35b779","#6ece58","#8fd744","#a0da39","#b5de2b","#eae51a","#fde725"]}}}},
{"data":{"name":"line1"},"mark":{"type":"rule","color":"#000000","strokeWidth":3},"encoding":{"x":{"field":"x","type":"quantitative"},"y":{"field":"y","type":"quantitative"},"x2":{"field":"x2"},"y2":{"field":"y2"}}},
{"data":{"name":"sub1x"},"mark":{"type":"text"},"encoding":{"x":{"field":"x","type":"quantitative"},"y":{"field":"y","type":"quantitative"},"text":{"field":"t"}}},
{"data":{"name":"sub1y"},"mark":{"type":"text","angle":270},"encoding":{"x":{"field":"x","type":"quantitative"},"y":{"field":"y","type":"quantitative"},"text":{"field":"t"}}}
]},
{"width":1232,"height":725,"layer":[
{"data":{"name":"poly2"},"mark":{"type":"line","strokeWidth":0},"encoding":{"x":{"field":"x","type":"quantitative","scale":{"domain":[-512,512],"nice":false,"zero":false},"axis":{"values":[-512,-448,-384,-320,-256,-192,-128,-64,0,64,128,192,256,320,384,448,512],"labelExpr":"'' + datum.value","title":"C","titleX":614,"titleY":50,"titleBaseline":"middle"}},"y":{"field":"y","type":"quantitative","scale":{"domain":[0,2048],"nice":false,"zero":false},"axis":{"values":[0,128,256,384,512,640,768,896,1024,1152,1280,1408,1536,1664,1792,1920,2048],"labelExpr":"'' + datum.value","title":"I","titleX":-74,"titleY":362,"titleBaseline":"middle"}},"detail":{"field":"i"},"order":{"field":"v"},"fill":{"field":"c","type":"nominal","legend":null,"scale":{"domain":["a","b","c","d","e","f","g","k","m","n","o","p","q","r"],"range":["#481567","#472d7b","#443a83","#3b528b","#33638d","#2c728e","#1f9a8a","#35b779","#6ece58","#8fd744","#a0da39","#b5de2b","#eae51a","#fde725"]}}}},
{"data":{"name":"line2"},"mark":{"type":"rule","color":"#000000","strokeWidth":3},"encoding":{"x":{"field":"x","type":"quantitative"},"y":{"field":"y","type":"quantitative"},"x2":{"field":"x2"},"y2":{"field":"y2"}}},
{"data":{"name":"sub2x"},"mark":{"type":"text"},"encoding":{"x":{"field":"x","type":"quantitative"},"y":{"field":"y","type":"quantitative"},"text":{"field":"t"}}}
]}
],"spacing":507,"bounds":"flush"},
{"hconcat":[
{"width":1234,"height":718,"layer":[
{"data":{"name":"poly3"},"mark":{"type":"line","strokeWidth":0},"encoding":{"x":{"field":"x","type":"quantitative","scale":{"domain":[-1024,1024],"nice":false,"zero":false},"axis":{"values":[-1024,-896,-768,-640,-512,-384,-256,-128,0,128,256,384,512,640,768,896,1024],"labelExpr":"'' + datum.value","title":"C","titleX":613,"titleY":50,"titleBaseline":"middle"}},"y":{"field":"y","type":"quantitative","scale":{"domain":[0,2048],"nice":false,"zero":false},"axis":{"values":[0,128,256,384,512,640,768,896,1024,1152,1280,1408,1536,1664,1792,1920,2048],"labelExpr":"'' + datum.value","title":"I","titleX":-74,"titleY":360,"titleBaseline":"middle"}},"detail":{"field":"i"},"order":{"field":"v"},"fill":{"field":"c","type":"nominal","legend":null,"scale":{"domain":["a","b","c","d","e","f","g","k","m","n","o","p","q","r"],"range":["#481567","#472d7b","#443a83","#3b528b","#33638d","#2c728e","#1f9a8a","#35b779","#6ece58","#8fd744","#a0da39","#b5de2b","#eae51a","#fde725"]}}}},
{"data":{"name":"line3"},"mark":{"type":"rule","color":"#000000","strokeWidth":3},"encoding":{"x":{"field":"x","type":"quantitative"},"y":{"field":"y","type":"quantitative"},"x2":{"field":"x2"},"y2":{"field":"y2"}}},
{"data":{"name":"sub3x"},"mark":{"type":"text"},"encoding":{"x":{"field":"x","type":"quantitative"},"y":{"field":"y","type":"quantitative"},"text":{"field":"t"}}}
]},
{"width":1480,"height":800,"layer":[
{"data":{"name":"poly4"},"mark":{"type":"line","strokeWidth":0},"encoding":{"x":{"field":"x","type":"quantitative","scale":{"domain":[0,1480],"nice":false,"zero":false},"axis":null},"y":{"field":"y","type":"quantitative","scale":{"domain":[0,800],"nice":false,"zero":false},"axis":null},"detail":{"field":"i"},"order":{"field":"v"},"fill":{"field":"c","type":"nominal","legend":null,"scale":{"domain":["a","b","c","d","e","f","g","k","m","n","o","p","q","r"],"range":["#481567","#472d7b","#443a83","#3b528b","#33638d","#2c728e","#1f9a8a","#35b779","#6ece58","#8fd744","#a0da39","#b5de2b","#eae51a","#fde725"]}}}},
{"data":{"name":"line4"},"mark":{"type":"rule","color":"#000000","strokeWidth":3.4},"encoding":{"x":{"field":"x","type":"quantitative"},"y":{"field":"y","type":"quantitative"},"x2":{"field":"x2"},"y2":{"field":"y2"}}},
{"data":{"name":"ticks4"},"mark":{"type":"rule","color":"#262626","strokeWidth":2.5},"encoding":{"x":{"field":"x","type":"quantitative"},"y":{"field":"y","type":"quantitative"},"x2":{"field":"x2"},"y2":{"field":"y2"}}},
{"data":{"name":"dot4"},"mark":{"type":"rule","color":"#262626","strokeWidth":1,"strokeDash":[2,2]},"encoding":{"x":{"field":"x","type":"quantitative"},"y":{"field":"y","type":"quantitative"},"x2":{"field":"x2"},"y2":{"field":"y2"}}},
{"data":{"name":"labR4"},"mark":{"type":"text","align":"right"},"encoding":{"x":{"field":"x","type":"quantitative"},"y":{"field":"y","type":"quantitative"},"text":{"field":"t"}}},
{"data":{"name":"labC4"},"mark":{"type":"text"},"encoding":{"x":{"field":"x","type":"quantitative"},"y":{"field":"y","type":"quantitative"},"text":{"field":"t"}}},
{"data":{"name":"labI4"},"mark":{"type":"text","angle":270},"encoding":{"x":{"field":"x","type":"quantitative"},"y":{"field":"y","type":"quantitative"},"text":{"field":"t"}}}
]}
],"spacing":386,"bounds":"flush"}
],"spacing":1040,"bounds":"flush"}
